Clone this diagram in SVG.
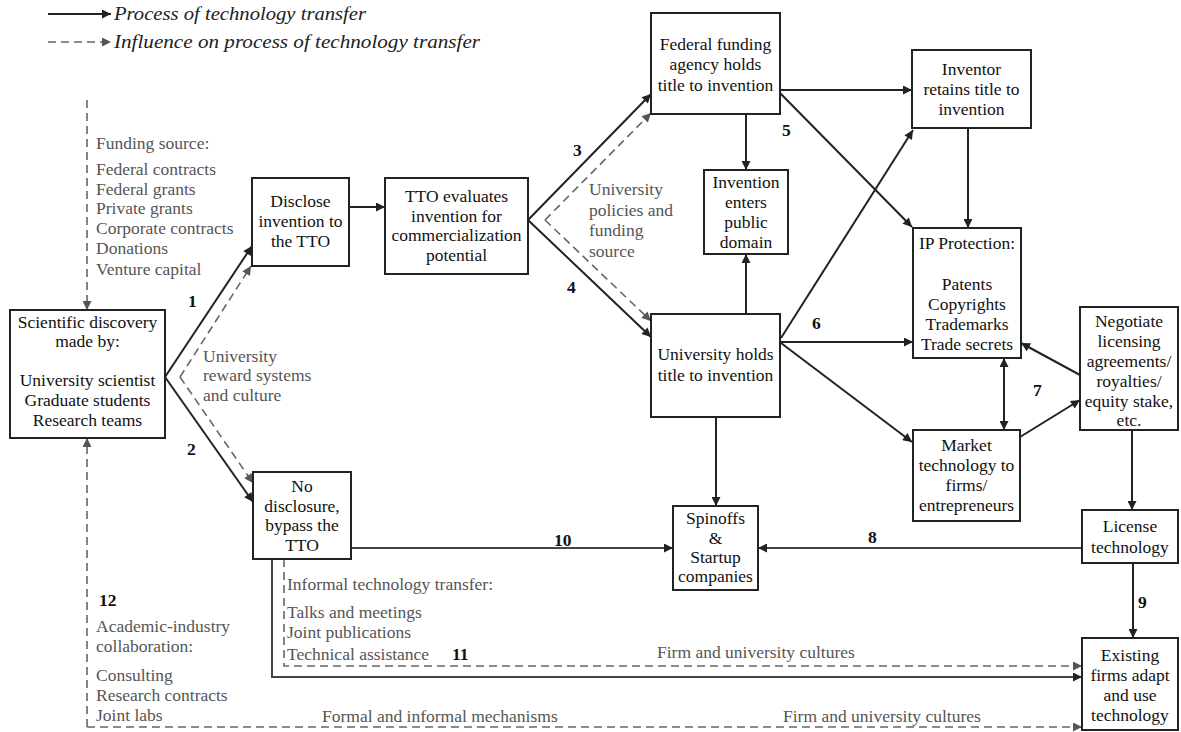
<svg xmlns="http://www.w3.org/2000/svg" width="1181" height="732" viewBox="0 0 1181 732" font-family="'Liberation Serif', serif">
<style>
.n{font-family:'Liberation Serif',serif;font-size:17.5px;fill:#111;text-anchor:middle}
.g{font-family:'Liberation Serif',serif;font-size:17.5px;fill:#555}
.num{font-family:'Liberation Serif',serif;font-size:17.5px;font-weight:bold;fill:#111}
.leg{font-family:'Liberation Serif',serif;font-size:18px;font-style:italic;fill:#222}
.box{fill:#fff;stroke:#222;stroke-width:2}
.s{fill:none;stroke:#222;stroke-width:2}
.s2{fill:none;stroke:#444;stroke-width:2}
.d{fill:none;stroke:#666;stroke-width:1.6;stroke-dasharray:8 5}
</style>
<defs>
<marker id="a" viewBox="0 0 10 10" refX="10" refY="5" markerWidth="11" markerHeight="9" markerUnits="userSpaceOnUse" orient="auto-start-reverse"><path d="M0,0 L10,5 L0,10 z" fill="#222"/></marker>
<marker id="ag" viewBox="0 0 10 10" refX="10" refY="5" markerWidth="11" markerHeight="9" markerUnits="userSpaceOnUse" orient="auto"><path d="M0,0 L10,5 L0,10 z" fill="#555"/></marker>
</defs>
<rect width="1181" height="732" fill="#fff"/>

<g id="legend">
<line class="s" x1="48" y1="14" x2="111" y2="14" marker-end="url(#a)"/>
<text class="leg" x="114" y="20" textLength="252" lengthAdjust="spacingAndGlyphs">Process of technology transfer</text>
<line class="d" x1="48" y1="42" x2="111" y2="42" marker-end="url(#ag)"/>
<text class="leg" x="114" y="48" textLength="366" lengthAdjust="spacingAndGlyphs">Influence on process of technology transfer</text>
</g>

<g id="connectors">
<line class="d" x1="87" y1="100" x2="87" y2="310" marker-end="url(#ag)"/>
<line class="s" x1="165" y1="377" x2="252" y2="246" marker-end="url(#a)"/>
<line class="s" x1="165" y1="377" x2="253" y2="502" marker-end="url(#a)"/>
<line class="d" x1="180" y1="377" x2="251" y2="266" marker-end="url(#ag)"/>
<line class="d" x1="180" y1="377" x2="253" y2="483" marker-end="url(#ag)"/>
<line class="s" x1="349" y1="207" x2="385" y2="207" marker-end="url(#a)"/>
<line class="s" x1="528" y1="220" x2="651" y2="94" marker-end="url(#a)"/>
<line class="s" x1="528" y1="220" x2="651" y2="337" marker-end="url(#a)"/>
<line class="d" x1="545" y1="220" x2="651" y2="113" marker-end="url(#ag)"/>
<line class="d" x1="545" y1="220" x2="651" y2="321" marker-end="url(#ag)"/>
<line class="s" x1="780" y1="90" x2="912" y2="90" marker-end="url(#a)"/>
<line class="s" x1="746" y1="114" x2="746" y2="170" marker-end="url(#a)"/>
<line class="s" x1="780" y1="93" x2="912" y2="227" marker-end="url(#a)"/>
<line class="s" x1="968" y1="128" x2="968" y2="228" marker-end="url(#a)"/>
<line class="s" x1="746" y1="314" x2="746" y2="254" marker-end="url(#a)"/>
<line class="s" x1="781" y1="338" x2="913" y2="130" marker-end="url(#a)"/>
<line class="s" x1="780" y1="342" x2="913" y2="342" marker-end="url(#a)"/>
<line class="s" x1="781" y1="343" x2="912" y2="442" marker-end="url(#a)"/>
<line class="s" x1="716" y1="417" x2="716" y2="506" marker-end="url(#a)"/>
<line class="s" x1="1004" y1="358" x2="1004" y2="430" marker-start="url(#a)" marker-end="url(#a)"/>
<line class="s" x1="1080" y1="375" x2="1021" y2="343" marker-end="url(#a)"/>
<line class="s" x1="1020" y1="437" x2="1080" y2="400" marker-end="url(#a)"/>
<line class="s" x1="1132" y1="430" x2="1132" y2="510" marker-end="url(#a)"/>
<line class="s2" x1="1082" y1="548" x2="758" y2="548" marker-end="url(#a)"/>
<line class="s" x1="1133" y1="563" x2="1133" y2="638" marker-end="url(#a)"/>
<line class="s2" x1="351" y1="548" x2="673" y2="548" marker-end="url(#a)"/>
<polyline class="s2" points="272,559 272,677 1082,677" marker-end="url(#a)"/>
<polyline class="d" points="284,559 284,666 1082,666" marker-end="url(#ag)"/>
<polyline class="d" points="87,727 1082,727" marker-end="url(#ag)"/>
<polyline class="d" points="87,727 87,438" marker-end="url(#ag)"/>
</g>

<g id="scientific">
<rect class="box" x="10" y="310" width="155" height="128"/>
<text class="n" x="87.5" y="328">Scientific discovery</text>
<text class="n" x="87.5" y="347">made by:</text>
<text class="n" x="87.5" y="386">University scientist</text>
<text class="n" x="87.5" y="406">Graduate students</text>
<text class="n" x="87.5" y="426">Research teams</text>
</g>

<g id="disclose">
<rect class="box" x="252" y="178" width="97" height="88"/>
<text class="n" x="300.5" y="207">Disclose</text>
<text class="n" x="300.5" y="227">invention to</text>
<text class="n" x="300.5" y="247">the TTO</text>
</g>

<g id="tto">
<rect class="box" x="385" y="178" width="143" height="96"/>
<text class="n" x="456.5" y="202">TTO evaluates</text>
<text class="n" x="456.5" y="221.5">invention for</text>
<text class="n" x="456.5" y="241">commercialization</text>
<text class="n" x="456.5" y="260.5">potential</text>
</g>

<g id="federal">
<rect class="box" x="651" y="13" width="129" height="101"/>
<text class="n" x="715.5" y="50">Federal funding</text>
<text class="n" x="715.5" y="70">agency holds</text>
<text class="n" x="715.5" y="91">title to invention</text>
</g>

<g id="inventor">
<rect class="box" x="912" y="50" width="119" height="78"/>
<text class="n" x="971.5" y="75">Inventor</text>
<text class="n" x="971.5" y="95">retains title to</text>
<text class="n" x="971.5" y="115">invention</text>
</g>

<g id="public">
<rect class="box" x="704" y="170" width="84" height="84"/>
<text class="n" x="746" y="188">Invention</text>
<text class="n" x="746" y="208">enters</text>
<text class="n" x="746" y="228">public</text>
<text class="n" x="746" y="248">domain</text>
</g>

<g id="university">
<rect class="box" x="651" y="314" width="129" height="103"/>
<text class="n" x="715.5" y="360">University holds</text>
<text class="n" x="715.5" y="381">title to invention</text>
</g>

<g id="ip">
<rect class="box" x="913" y="228" width="108" height="130"/>
<text class="n" x="967" y="249">IP Protection:</text>
<text class="n" x="967" y="290">Patents</text>
<text class="n" x="967" y="310">Copyrights</text>
<text class="n" x="967" y="330">Trademarks</text>
<text class="n" x="967" y="350">Trade secrets</text>
</g>

<g id="negotiate">
<rect class="box" x="1080" y="307" width="98" height="123"/>
<text class="n" x="1129" y="327">Negotiate</text>
<text class="n" x="1129" y="347">licensing</text>
<text class="n" x="1129" y="367">agreements/</text>
<text class="n" x="1129" y="387">royalties/</text>
<text class="n" x="1129" y="407">equity stake,</text>
<text class="n" x="1129" y="426">etc.</text>
</g>

<g id="market">
<rect class="box" x="913" y="430" width="107" height="91"/>
<text class="n" x="966.5" y="451">Market</text>
<text class="n" x="966.5" y="471">technology to</text>
<text class="n" x="966.5" y="491">firms/</text>
<text class="n" x="966.5" y="511">entrepreneurs</text>
</g>

<g id="license">
<rect class="box" x="1082" y="510" width="96" height="53"/>
<text class="n" x="1130" y="532">License</text>
<text class="n" x="1130" y="553">technology</text>
</g>

<g id="existing">
<rect class="box" x="1082" y="638" width="96" height="92"/>
<text class="n" x="1130" y="661">Existing</text>
<text class="n" x="1130" y="681">firms adapt</text>
<text class="n" x="1130" y="701">and use</text>
<text class="n" x="1130" y="721">technology</text>
</g>

<g id="spinoffs">
<rect class="box" x="673" y="506" width="85" height="84"/>
<text class="n" x="715.5" y="524">Spinoffs</text>
<text class="n" x="715.5" y="544">&amp;</text>
<text class="n" x="715.5" y="563">Startup</text>
<text class="n" x="715.5" y="582">companies</text>
</g>

<g id="nodisclosure">
<rect class="box" x="253" y="472" width="98" height="87"/>
<text class="n" x="302" y="492">No</text>
<text class="n" x="302" y="512">disclosure,</text>
<text class="n" x="302" y="531">bypass the</text>
<text class="n" x="302" y="551">TTO</text>
</g>

<g id="labels">
<text class="g" x="96" y="149">Funding source:</text>
<text class="g" x="96" y="175">Federal contracts</text>
<text class="g" x="96" y="195">Federal grants</text>
<text class="g" x="96" y="214">Private grants</text>
<text class="g" x="96" y="234">Corporate contracts</text>
<text class="g" x="96" y="254">Donations</text>
<text class="g" x="96" y="275">Venture capital</text>
<text class="g" x="203" y="362">University</text>
<text class="g" x="203" y="381">reward systems</text>
<text class="g" x="203" y="401">and culture</text>
<text class="g" x="589" y="195">University</text>
<text class="g" x="589" y="215.5">policies and</text>
<text class="g" x="589" y="236">funding</text>
<text class="g" x="589" y="256.5">source</text>
<text class="g" x="287" y="590">Informal technology transfer:</text>
<text class="g" x="287" y="618">Talks and meetings</text>
<text class="g" x="287" y="638">Joint publications</text>
<text class="g" x="287" y="660">Technical assistance</text>
<text class="g" x="96" y="632">Academic-industry</text>
<text class="g" x="96" y="652">collaboration:</text>
<text class="g" x="96" y="681">Consulting</text>
<text class="g" x="96" y="701">Research contracts</text>
<text class="g" x="96" y="721">Joint labs</text>
<text class="g" x="322" y="722">Formal and informal mechanisms</text>
<text class="g" x="657" y="658">Firm and university cultures</text>
<text class="g" x="783" y="722">Firm and university cultures</text>
<text class="num" x="188" y="307">1</text>
<text class="num" x="187" y="455">2</text>
<text class="num" x="573" y="156">3</text>
<text class="num" x="567" y="293">4</text>
<text class="num" x="782" y="136">5</text>
<text class="num" x="812" y="329">6</text>
<text class="num" x="1033" y="396">7</text>
<text class="num" x="868" y="543">8</text>
<text class="num" x="1138" y="608">9</text>
<text class="num" x="554" y="546">10</text>
<text class="num" x="452" y="660">11</text>
<text class="num" x="99" y="606">12</text>
</g>
</svg>
